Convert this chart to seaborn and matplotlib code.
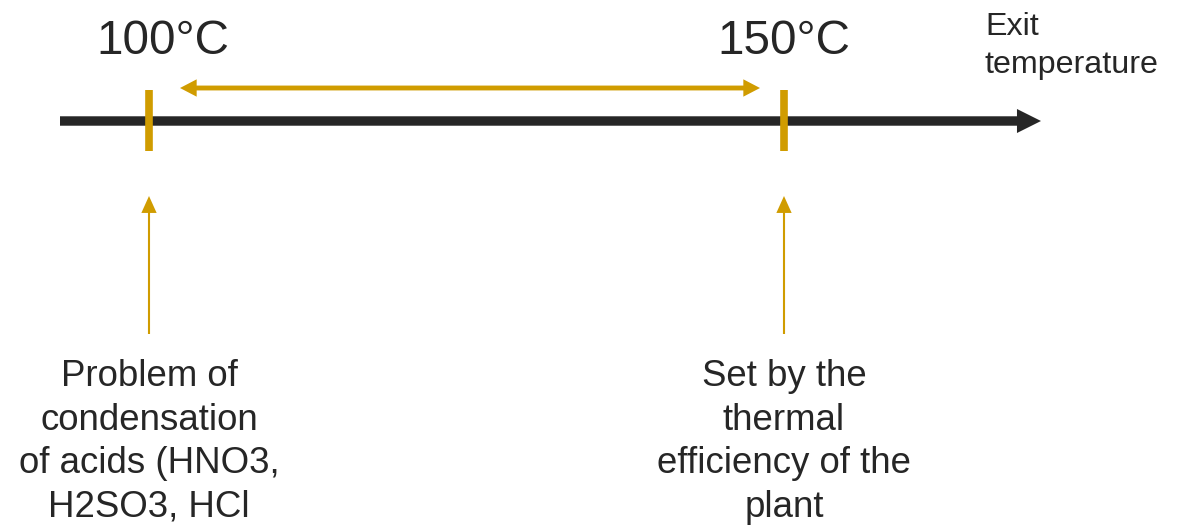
import matplotlib
matplotlib.use("Agg")
import matplotlib.pyplot as plt
import seaborn as sns
import pandas as pd

# ---- data ----
temps = [100, 150]
temp_labels = ["100°C", "150°C"]
notes = [
    "Problem of\ncondensation\nof acids (HNO3,\nH2SO3, HCl",
    "Set by the\nthermal\nefficiency of the\nplant",
]
axis_title = "Exit\ntemperature"

GOLD = "#D09C00"
DARK = "#262626"
TEXT = "#262626"

sns.set_theme(style="white")
plt.rcParams["font.family"] = ["Liberation Sans", "DejaVu Sans"]

fig = plt.figure(figsize=(11.82, 5.29), dpi=100)
ax = fig.add_axes([0, 0, 1, 1])

# x: degrees C ; y: pixel rows (top = 0)
px_per_deg = 12.7
x0 = temps[0] - 149 / px_per_deg
x1 = temps[0] + (1182 - 149) / px_per_deg
ax.set_xlim(x0, x1)
ax.set_ylim(529, 0)
ax.axis("off")

def px(p):
    return x0 + p / px_per_deg

df = pd.DataFrame({"temp": temps, "label": temp_labels, "note": notes})


def arrow(xy_from, xy_to, color, tail, hl, hw, z=2):
    ax.annotate("", xy=xy_to, xytext=xy_from,
                arrowprops=dict(
                    arrowstyle=f"simple,head_length={hl},head_width={hw},tail_width={tail}",
                    mutation_scale=1, lw=0, color=color,
                    shrinkA=0, shrinkB=0),
                zorder=z)


# main axis arrow
arrow((px(60), 121), (px(1041), 121), DARK, 6.8, 17.3, 17.3)

# tick marks
for t in df["temp"]:
    ax.plot([t, t], [90, 151], color=GOLD, lw=5.5, solid_capstyle="butt", zorder=3)

# double-headed range arrow (two halves from the middle)
left_end = df["temp"][0] + 31 / px_per_deg
right_end = df["temp"][1] - 24 / px_per_deg
mid = (left_end + right_end) / 2
arrow((mid, 88), (left_end, 88), GOLD, 3.5, 12.0, 12.5)
arrow((mid, 88), (right_end, 88), GOLD, 3.5, 12.0, 12.5)

# vertical pointer arrows
for t in df["temp"]:
    arrow((t, 334), (t, 196), GOLD, 1.5, 12.2, 11.0)

# temperature labels
label_offsets = [14, 0]
for t, lab, off in zip(df["temp"], df["label"], label_offsets):
    ax.text(t + off / px_per_deg, 41, lab, ha="center", va="center",
            fontsize=34.3, color=TEXT)

# notes
for t, note in zip(df["temp"], df["note"]):
    ax.text(t, 442, note, ha="center", va="center", fontsize=26.4,
            color=TEXT, linespacing=1.31)

ax.text(px(985), 46, axis_title, ha="left", va="center", fontsize=23.2,
        color=TEXT, linespacing=1.36)

fig.savefig("out.png", dpi=100)
